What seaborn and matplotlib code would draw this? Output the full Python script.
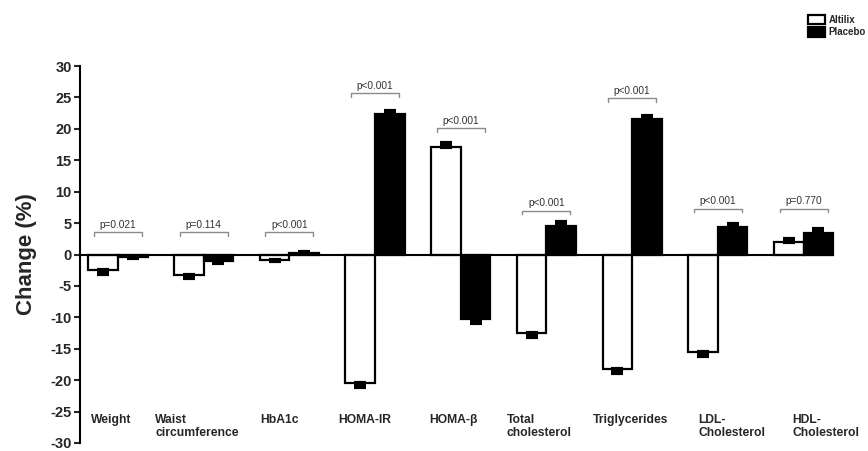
import numpy as np
import pandas as pd
import matplotlib
matplotlib.use("Agg")
import matplotlib.pyplot as plt
import seaborn as sns

categories = ["Weight", "Waist\ncircumference", "HbA1c", "HOMA-IR", "HOMA-\u03b2",
              "Total\ncholesterol", "Triglycerides", "LDL-\nCholesterol", "HDL-\nCholesterol"]
altilix = [-2.5, -3.3, -0.8, -20.5, 17.1, -12.5, -18.3, -15.5, 2.0]
placebo = [-0.4, -1.0, 0.2, 22.3, -10.3, 4.6, 21.5, 4.3, 3.5]
altilix_err = [0.6, 0.4, 0.3, 0.6, 0.6, 0.6, 0.6, 0.7, 0.4]
placebo_err = [0.2, 0.3, 0.2, 0.6, 0.6, 0.6, 0.6, 0.5, 0.5]
p_values = ["p=0.021", "p=0.114", "p<0.001", "p<0.001", "p<0.001",
            "p<0.001", "p<0.001", "p<0.001", "p=0.770"]
p_heights = [3.6, 3.6, 3.6, 25.7, 20.1, 7.0, 24.9, 7.3, 7.3]

# horizontal nudge of each category label (fraction of a category step)
label_shift = [0.035, -0.22, 0.006, -0.08, -0.023, -0.117, -0.11, 0.117, 0.21]

df = pd.DataFrame({
    "measure": categories * 2,
    "group": ["Altilix"] * 9 + ["Placebo"] * 9,
    "change": altilix + placebo,
})

sns.set_theme(style="white")
plt.rcParams["font.family"] = ["Liberation Sans", "DejaVu Sans"]

fig = plt.figure(figsize=(8.68, 4.51), dpi=100)
ax = fig.add_axes([80 / 868, 8 / 451, 770 / 868, 377 / 451])

sns.barplot(data=df, x="measure", y="change", hue="group", order=categories,
            hue_order=["Altilix", "Placebo"],
            palette={"Altilix": "white", "Placebo": "black"},
            width=0.69, edgecolor="black", linewidth=1.6, errorbar=None, ax=ax)

# one-sided error bars, drawn from the bar patches
n = len(categories)
patches = ax.patches[:2 * n]
for p, v, e in zip(patches, altilix + placebo, altilix_err + placebo_err):
    xc = p.get_x() + p.get_width() / 2
    yerr = [[0], [e]] if v >= 0 else [[e], [0]]
    ax.errorbar(xc, v, yerr=yerr, fmt="none", ecolor="black",
                elinewidth=1.6, capsize=4.5, capthick=3, zorder=1)

# p-value brackets
for i in range(n):
    x0, x1 = i - 0.28, i + 0.28
    h = p_heights[i]
    ax.plot([x0, x0, x1, x1], [h - 0.6, h, h, h - 0.6], color="#8c8c8c", lw=1.0)
    ax.text(i, h + 0.35, p_values[i], ha="center", va="bottom", fontsize=7.3, color="#333333")

# category labels inside the axes
for i, c in enumerate(categories):
    ax.text(i - 0.344 + label_shift[i], -25.4, c, ha="left", va="top", fontsize=8.7,
            fontweight="bold", linespacing=1.05)

ax.set_xlim(-0.443, -0.443 + 770 / 85.7)
ax.set_ylim(-30, 30)
ax.axhline(0, xmin=0, xmax=(8.345 + 0.443) / (770 / 85.7), color="black", lw=1.5)
ax.set_yticks(np.arange(-30, 31, 5))
ax.set_yticklabels([str(t) for t in range(-30, 31, 5)], fontsize=10.5, fontweight="bold")
ax.tick_params(axis="y", direction="out", length=4, width=1.5, left=True, pad=2)
ax.set_xticks([])
ax.set_xlabel("")
ax.set_ylabel("Change (%)", fontsize=16, fontweight="bold")
ax.yaxis.set_label_coords(-43 / 770, 0.5)
for s in ["top", "right", "bottom"]:
    ax.spines[s].set_visible(False)
ax.spines["left"].set_linewidth(1.5)
ax.spines["left"].set_color("black")

handles, labels = ax.get_legend_handles_labels()
ax.legend_.remove()
leg = fig.legend(handles, labels, loc="upper left", bbox_to_anchor=(803 / 868, 1 - 10 / 451),
                 frameon=False, fontsize=7, handlelength=1.8, handleheight=1.1,
                 handletextpad=0.35, labelspacing=0.25, borderpad=0)
for t in leg.get_texts():
    t.set_fontweight("bold")

fig.savefig("out.png", dpi=100)
